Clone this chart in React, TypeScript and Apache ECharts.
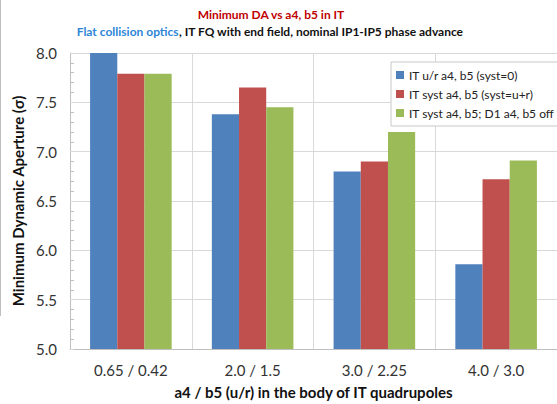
import React, { useEffect, useRef } from "react";
import * as echarts from "echarts";

const categories = ["0.65 / 0.42", "2.0 / 1.5", "3.0 / 2.25", "4.0 / 3.0"];
const seriesNames = [
  "IT u/r a4, b5 (syst=0)",
  "IT syst a4, b5 (syst=u+r)",
  "IT syst a4, b5; D1 a4, b5 off",
];
const blueValues = [8.0, 7.38, 6.8, 5.86];
const redValues = [7.79, 7.65, 6.9, 6.72];
const greenValues = [7.79, 7.45, 7.2, 6.91];
const colors = ["#4f81bd", "#c0504d", "#9bbb59"];

const FONT = "Lato, 'Open Sans', sans-serif";

export default function App() {
  const ref = useRef<HTMLDivElement>(null);
  useEffect(() => {
    if (!ref.current) return;
    const chart = echarts.init(ref.current, null, { renderer: "svg" });
    const values = [blueValues, redValues, greenValues];
    chart.setOption({
      animation: false,
      backgroundColor: "#ffffff",
      textStyle: { fontFamily: FONT },
      title: [
        {
          text: "Minimum DA vs a4, b5 in IT",
          left: 266,
          top: 3,
          textAlign: "center",
          textStyle: { color: "#c00000", fontSize: 12, fontWeight: "bold", fontFamily: FONT },
        },
        {
          text: "{b|Flat collision optics}{k|, IT FQ with end field, nominal IP1-IP5 phase advance}",
          left: 265,
          top: 20,
          textAlign: "center",
          textStyle: {
            fontFamily: FONT,
            rich: {
              b: { color: "#2e86d6", fontSize: 12, fontWeight: "bold", fontFamily: FONT },
              k: { color: "#111111", fontSize: 12, fontWeight: "bold", fontFamily: FONT },
            },
          },
        },
      ],
      legend: {
        orient: "vertical",
        left: 391,
        top: 62,
        padding: [6, 6, 6, 5],
        backgroundColor: "#ffffff",
        borderColor: "#c8c8c8",
        borderWidth: 1,
        itemWidth: 8,
        itemHeight: 8,
        itemGap: 5,
        icon: "rect",
        textStyle: { fontSize: 12, color: "#222", fontFamily: FONT, lineHeight: 14 },
        data: seriesNames,
      },
      grid: { left: 70, top: 53, width: 496, height: 298, containLabel: false },
      xAxis: {
        type: "category",
        data: categories,
        name: "a4 / b5 (u/r) in the body of IT quadrupoles",
        nameLocation: "middle",
        nameGap: 35,
        nameTextStyle: { fontSize: 15, fontWeight: "bold", color: "#111", fontFamily: FONT },
        axisLine: { lineStyle: { color: "#bfbfbf" } },
        axisTick: { show: false },
        axisLabel: { fontSize: 15, color: "#333", margin: 13, fontFamily: FONT },
        splitLine: { show: true, lineStyle: { color: "#d9d9d9" } },
      },
      yAxis: {
        type: "value",
        min: 5,
        max: 8,
        interval: 0.5,
        name: "Minimum Dynamic Aperture (σ)",
        nameLocation: "middle",
        nameGap: 44,
        nameTextStyle: { fontSize: 15, fontWeight: "bold", color: "#111", fontFamily: FONT },
        axisLine: { show: true, lineStyle: { color: "#bfbfbf" } },
        axisTick: { show: true, inside: true, length: 4, lineStyle: { color: "#d9d9d9" } },
        minorTick: { show: true, splitNumber: 5, length: 4, lineStyle: { color: "#bfbfbf" } },
        axisLabel: {
          fontSize: 15,
          color: "#333",
          margin: 13,
          fontFamily: FONT,
          formatter: (v: number) => v.toFixed(1),
        },
        splitLine: { show: true, lineStyle: { color: "#d9d9d9" } },
      },
      graphic: [
        {
          type: "line",
          shape: { x1: 0.5, y1: 0, x2: 0.5, y2: 316 },
          style: { stroke: "#bfbfbf", lineWidth: 1 },
        },
      ],
      series: seriesNames.map((name, i) => ({
        name,
        type: "bar",
        data: values[i],
        barGap: "0%",
        barCategoryGap: "33%",
        itemStyle: { color: colors[i] },
      })),
    });
    return () => chart.dispose();
  }, []);
  return <div ref={ref} style={{ width: 557, height: 404, position: "absolute", left: 0, top: 0 }} />;
}
